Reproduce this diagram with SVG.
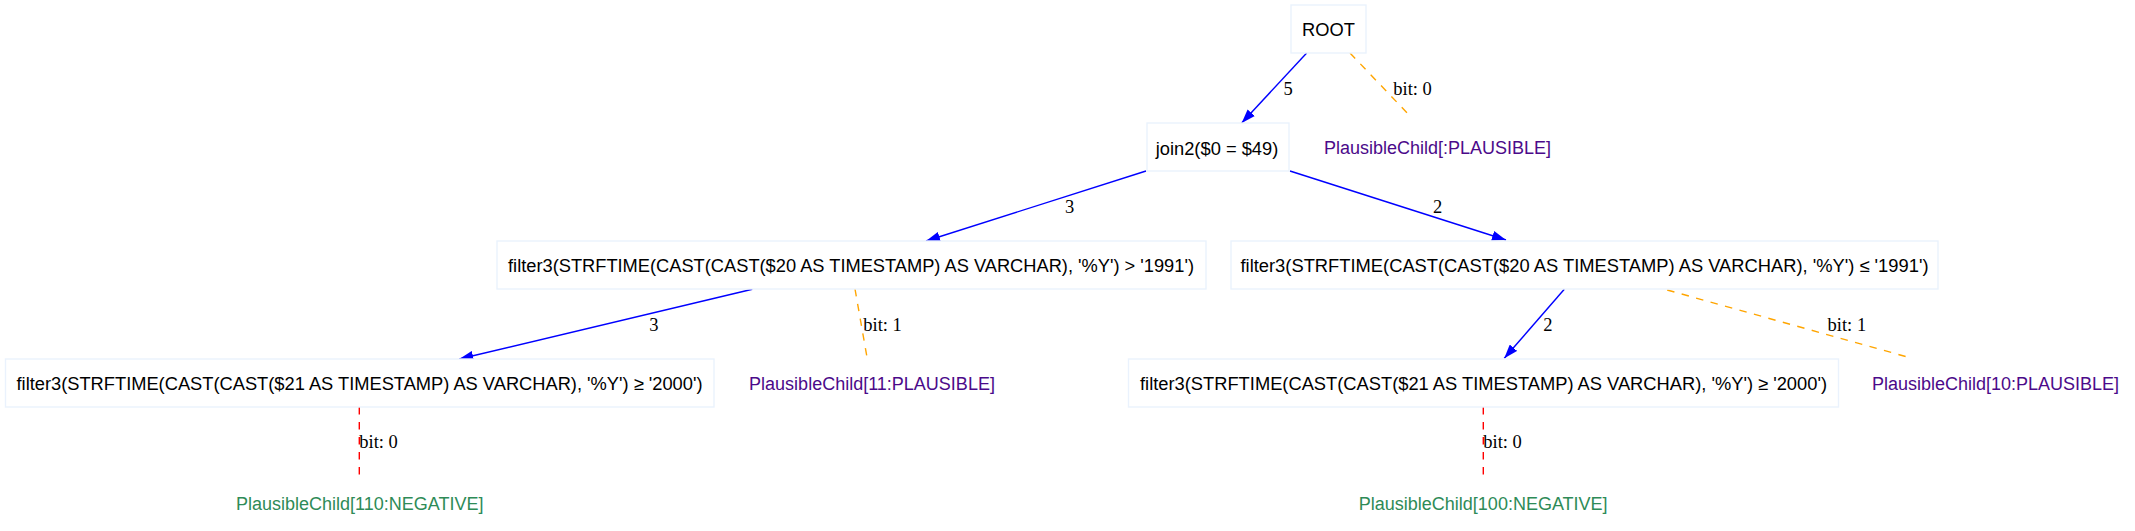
<svg xmlns="http://www.w3.org/2000/svg" width="2135" height="531" viewBox="0 0 2135 531">
<style>
.box{fill:#ffffff;stroke:#eaf2fd;stroke-width:1.4}
.nt{font-family:"Liberation Sans",Arial,sans-serif;font-size:18.3px;fill:#000;text-anchor:middle}
.plaus{font-family:"Liberation Sans",Arial,sans-serif;font-size:18px;fill:#4b0a8a;text-anchor:middle}
.neg{font-family:"Liberation Sans",Arial,sans-serif;font-size:18px;fill:#2e8b57;text-anchor:middle}
.el{font-family:"Liberation Serif","Times New Roman",serif;font-size:18.5px;fill:#000}
.blue{stroke:#0000ff;stroke-width:1.4;fill:none;marker-end:url(#arr)}
.orange{stroke:#ffa500;stroke-width:1.4;fill:none;stroke-dasharray:7.5 7.5}
.red{stroke:#ff0000;stroke-width:1.4;fill:none;stroke-dasharray:7.5 7.5}
</style>
<defs>
<marker id="arr" markerUnits="userSpaceOnUse" markerWidth="14" markerHeight="10" refX="13.6" refY="4.8" orient="auto" viewBox="0 0 13.6 9.6">
<path d="M0,0 L13.6,4.8 L0,9.6 z" fill="#0000ff"/>
</marker>
</defs>
<rect width="2135" height="531" fill="#ffffff"/>
<g id="connectors">
<line class="blue" x1="1306.7" y1="53" x2="1241.7" y2="123"/>
<text class="el" x="1283.5" y="95">5</text>
<line class="orange" x1="1350" y1="53" x2="1411" y2="117"/>
<text class="el" x="1393.3" y="95">bit: 0</text>
<line class="blue" x1="1146" y1="171" x2="926" y2="241"/>
<text class="el" x="1065" y="213">3</text>
<line class="blue" x1="1290" y1="171" x2="1506" y2="240"/>
<text class="el" x="1433" y="213">2</text>
<line class="blue" x1="752.3" y1="289.3" x2="459.3" y2="359"/>
<text class="el" x="649.3" y="330.7">3</text>
<line class="orange" x1="855" y1="289" x2="867.3" y2="359"/>
<text class="el" x="863.3" y="330.7">bit: 1</text>
<line class="blue" x1="1564.3" y1="289.3" x2="1504.3" y2="358.3"/>
<text class="el" x="1543.3" y="330.7">2</text>
<line class="orange" x1="1667.2" y1="290" x2="1906.4" y2="356.7"/>
<text class="el" x="1827.6" y="330.5">bit: 1</text>
<line class="red" x1="359.3" y1="407" x2="359.3" y2="476"/>
<text class="el" x="359.3" y="448.3">bit: 0</text>
<line class="red" x1="1483.3" y1="407" x2="1483.3" y2="476"/>
<text class="el" x="1483.3" y="448.3">bit: 0</text>
</g>
<g id="root">
<rect class="box" x="1291" y="5" width="75" height="48"/>
<text class="nt" x="1328.5" y="36">ROOT</text>
</g>
<g id="plausible_root">
<text class="plaus" x="1437.5" y="154">PlausibleChild[:PLAUSIBLE]</text>
</g>
<g id="join2">
<rect class="box" x="1147" y="123" width="142" height="48"/>
<text class="nt" x="1217" y="154.5">join2($0 = $49)</text>
</g>
<g id="filter_gt_1991">
<rect class="box" x="497" y="241" width="709" height="48"/>
<text class="nt" x="851" y="272" textLength="686" lengthAdjust="spacingAndGlyphs">filter3(STRFTIME(CAST(CAST($20 AS TIMESTAMP) AS VARCHAR), '%Y') &gt; '1991')</text>
</g>
<g id="filter_le_1991">
<rect class="box" x="1231" y="241" width="707" height="48"/>
<text class="nt" x="1584.5" y="272" textLength="688" lengthAdjust="spacingAndGlyphs">filter3(STRFTIME(CAST(CAST($20 AS TIMESTAMP) AS VARCHAR), '%Y') ≤ '1991')</text>
</g>
<g id="plausible_11">
<text class="plaus" x="872" y="390">PlausibleChild[11:PLAUSIBLE]</text>
</g>
<g id="plausible_10">
<text class="plaus" x="1995.5" y="390">PlausibleChild[10:PLAUSIBLE]</text>
</g>
<g id="filter_ge_2000_left">
<rect class="box" x="5.5" y="359" width="708.5" height="48"/>
<text class="nt" x="359.5" y="390" textLength="686" lengthAdjust="spacingAndGlyphs">filter3(STRFTIME(CAST(CAST($21 AS TIMESTAMP) AS VARCHAR), '%Y') ≥ '2000')</text>
</g>
<g id="filter_ge_2000_right">
<rect class="box" x="1128.5" y="359" width="710" height="48"/>
<text class="nt" x="1483.5" y="390" textLength="687" lengthAdjust="spacingAndGlyphs">filter3(STRFTIME(CAST(CAST($21 AS TIMESTAMP) AS VARCHAR), '%Y') ≥ '2000')</text>
</g>
<g id="negative_110">
<text class="neg" x="359.7" y="510">PlausibleChild[110:NEGATIVE]</text>
</g>
<g id="negative_100">
<text class="neg" x="1483.2" y="510">PlausibleChild[100:NEGATIVE]</text>
</g>
</svg>
